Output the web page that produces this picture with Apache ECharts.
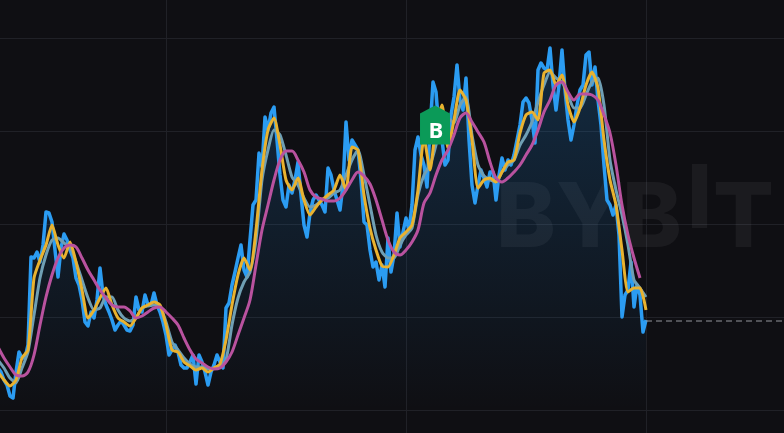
<!DOCTYPE html>
<html>
<head>
<meta charset="utf-8">
<script src="https://cdn.jsdelivr.net/npm/echarts@6/dist/echarts.min.js"></script>
<style>html,body{margin:0;padding:0;background:#0f0f13}#c{width:784px;height:433px}</style>
</head>
<body>
<div id="c"></div>
<script>
const firstBar = 24;
const closeStep = 1;
const maStep = 2;
const closeValues = [42,38,30,25,14,12,38,58,52,52,65,153,152,158,148,165,198,197,188,160,133,162,176,170,160,152,132,125,110,88,84,98,92,110,142,115,105,98,90,80,85,89,85,80,79,85,113,100,98,115,105,105,117,105,98,88,75,55,60,65,58,45,42,42,48,55,26,55,48,38,25,38,45,55,48,42,102,107,125,138,152,165,140,133,170,205,210,257,243,293,280,297,303,270,235,210,203,225,217,230,248,215,185,173,197,210,215,210,205,198,242,235,220,210,200,225,288,250,270,265,260,230,188,185,160,143,148,130,145,123,172,138,155,197,163,178,192,180,205,260,273,255,245,223,280,328,318,280,270,245,250,295,313,345,310,300,332,270,225,207,225,240,232,223,238,238,210,235,252,240,250,245,255,270,285,308,312,307,290,267,340,347,342,340,362,325,300,325,360,320,290,270,285,305,320,325,355,358,325,343,310,285,245,210,205,195,205,175,93,115,120,148,103,125,115,78,90];
const maFast = [38,30,24,30,52,60,132,150,165,185,165,152,168,148,120,92,100,112,122,105,92,88,84,92,102,105,108,105,85,60,58,48,44,40,42,38,42,46,70,105,135,152,140,180,240,280,292,265,230,220,232,210,195,203,210,215,220,235,220,263,260,215,182,160,144,143,155,172,178,185,220,272,240,285,305,262,290,320,310,270,222,230,232,228,238,248,250,277,295,298,290,337,340,325,335,305,288,302,325,338,322,270,230,205,160,118,122,122,100];
const maMid = [50,42,32,27,42,58,95,132,155,170,172,167,163,148,130,112,100,102,113,113,100,92,89,92,102,104,105,104,88,68,60,52,46,43,43,41,42,44,50,85,112,128,138,170,230,260,280,275,255,233,225,212,203,205,210,212,217,220,235,250,260,235,205,175,158,152,152,165,175,182,215,235,245,265,295,292,287,305,313,275,245,234,230,228,238,245,250,265,275,288,308,325,338,332,328,315,302,302,315,328,332,305,250,220,195,165,130,122,113];
const maSlow = [63,52,43,35,34,38,55,85,113,135,152,162,165,163,152,140,130,120,112,105,103,103,99,92,94,98,102,103,98,92,85,72,60,51,47,43,41,42,48,58,75,92,110,145,180,205,230,250,259,259,250,238,220,213,211,209,209,212,220,230,238,234,226,210,190,170,158,155,160,168,180,207,217,235,250,260,275,292,297,288,278,268,248,232,228,232,238,245,255,265,280,298,310,325,328,318,310,316,316,315,310,295,277,245,205,175,152,132];
const levelValue = [89];
const buyLabel = ['B'];
const buyPoint = [169.67, 285];
const rulerEnd = [240, 320];

const pairs = (vals, step) => vals.map((v, i) => [firstBar + i * step, v]);
const lineStyleBase = { type: 'line', showSymbol: false, symbol: 'none', silent: true };
const markStyle = (text, size) => ({ text, fill: 'rgba(255,255,255,0.05)', fontFamily: 'Inter', fontSize: size, fontWeight: 800 });

const chart = echarts.init(document.getElementById('c'), null, { renderer: 'canvas' });
chart.setOption({
  animation: false,
  backgroundColor: '#0f0f13',
  grid: { left: -74, right: -102, top: -55, bottom: -70, outerBoundsMode: 'none', containLabel: false },
  xAxis: {
    type: 'value', min: 0, max: 320, interval: 80,
    axisLine: { show: false }, axisTick: { show: false }, axisLabel: { show: false },
    splitLine: { show: true, lineStyle: { color: '#202127', width: 1 } }
  },
  yAxis: {
    type: 'value', min: -93, max: 465, interval: 93,
    axisLine: { show: false }, axisTick: { show: false }, axisLabel: { show: false },
    splitLine: { show: true, lineStyle: { color: '#202127', width: 1 } }
  },
  graphic: [
    { type: 'text', z: 1, left: 496, top: 175, style: markStyle('B', 90) },
    { type: 'text', z: 1, left: 556, top: 175, style: markStyle('Y', 90) },
    { type: 'text', z: 1, left: 622, top: 175, style: markStyle('B', 90) },
    { type: 'text', z: 1, left: 687, top: 158, style: markStyle('I', 88) },
    { type: 'text', z: 1, left: 713, top: 175, style: markStyle('T', 90) }
  ],
  series: [
    Object.assign({}, lineStyleBase, {
      name: 'Close', z: 2,
      data: pairs(closeValues, closeStep),
      lineStyle: { color: '#2b9cf2', width: 3.5, join: 'round' },
      areaStyle: { color: { type: 'linear', x: 0, y: 0, x2: 0, y2: 1, colorStops: [
        { offset: 0, color: 'rgba(33,150,243,0.3)' }, { offset: 1, color: 'rgba(33,150,243,0)' } ] } }
    }),
    Object.assign({}, lineStyleBase, {
      name: 'MA slow 2', z: 3, data: pairs(maMid, maStep), smooth: 0.2,
      lineStyle: { color: '#6f9fb4', width: 3 }
    }),
    Object.assign({}, lineStyleBase, {
      name: 'MA fast', z: 4, data: pairs(maFast, maStep), smooth: 0.2,
      lineStyle: { color: '#e9b22f', width: 3 }
    }),
    Object.assign({}, lineStyleBase, {
      name: 'MA slow', z: 5, data: pairs(maSlow, maStep), smooth: 0.3,
      lineStyle: { color: '#b9529f', width: 3 }
    }),
    Object.assign({}, lineStyleBase, {
      name: 'Last', z: 3,
      data: rulerEnd.map(x => [x, levelValue[0]]),
      lineStyle: { color: '#94969c', width: 1, type: [6, 4] }
    }),
    {
      type: 'scatter', z: 10, silent: true,
      data: [buyPoint],
      symbol: 'path://M15 0L30 8V39H0V8Z',
      symbolSize: [30, 39],
      itemStyle: { color: '#0b9a58', opacity: 1 },
      label: { show: true, position: 'inside', offset: [1, 7], formatter: () => buyLabel[0],
        color: '#ffffff', fontFamily: '"Open Sans"', fontWeight: 'bold', fontSize: 22 }
    }
  ]
});
</script>
</body>
</html>
